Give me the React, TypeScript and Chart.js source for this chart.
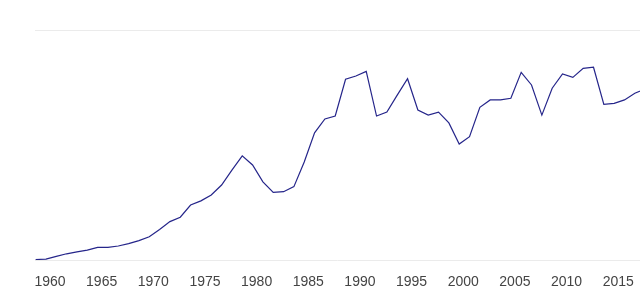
import React, { useEffect, useRef } from "react";
import { Chart, registerables } from "chart.js";

Chart.register(...registerables);

const years: number[] = [
  1959, 1960, 1961, 1962, 1963, 1964, 1965, 1966, 1967, 1968, 1969,
  1970, 1971, 1972, 1973, 1974, 1975, 1976, 1977, 1978, 1979,
  1980, 1981, 1982, 1983, 1984, 1985, 1986, 1987, 1988, 1989,
  1990, 1991, 1992, 1993, 1994, 1995, 1996, 1997, 1998, 1999,
  2000, 2001, 2002, 2003, 2004, 2005, 2006, 2007, 2008, 2009,
  2010, 2011, 2012, 2013, 2014, 2015, 2016, 2017, 2018,
];

const values: number[] = [
  0.2, 0.4, 1.6, 2.7, 3.5, 4.3, 5.5, 5.5, 6.1, 7.1, 8.4,
  10.1, 13.3, 16.7, 18.6, 23.9, 25.7, 28.3, 32.6, 39.1, 45.3,
  41.3, 34.0, 29.4, 29.7, 31.9, 42.6, 55.3, 61.3, 62.6, 78.6,
  80.0, 82.0, 62.6, 64.3, 71.7, 78.8, 65.2, 63.0, 64.3, 59.6,
  50.4, 53.6, 66.4, 69.6, 69.6, 70.3, 81.6, 76.1, 63.0, 74.7,
  80.9, 79.4, 83.3, 83.8, 67.7, 68.1, 69.6, 72.5, 74.3,
];

const yearTicks: number[] = [1960, 1965, 1970, 1975, 1980, 1985, 1990, 1995, 2000, 2005, 2010, 2015];
const yTicks: number[] = [0, 100];

const X_MIN = 1958.94;
const X_MAX = 2017.5;
const LABEL_SHIFT = 0.39;

const yearLabelsPlugin = {
  id: "yearLabels",
  afterDraw(chart: any) {
    const { ctx, scales, chartArea } = chart;
    const xs = scales.x;
    ctx.save();
    ctx.font = "14px 'Liberation Sans', Arial, sans-serif";
    ctx.fillStyle = "#444444";
    ctx.textAlign = "center";
    ctx.textBaseline = "alphabetic";
    for (const y of yearTicks) {
      const px = xs.getPixelForValue(y + LABEL_SHIFT);
      ctx.fillText(String(y), px, chartArea.bottom + 26);
    }
    ctx.restore();
  },
};

export default function App() {
  const ref = useRef<HTMLCanvasElement | null>(null);

  useEffect(() => {
    if (!ref.current) return;
    const chart = new Chart(ref.current, {
      type: "line",
      data: {
        datasets: [
          {
            data: years.map((y, i) => ({ x: y, y: values[i] })),
            borderColor: "#25258a",
            borderWidth: 1.2,
            pointRadius: 0,
            tension: 0,
            fill: false,
          },
        ],
      },
      plugins: [yearLabelsPlugin],
      options: {
        animation: false,
        responsive: false,
        maintainAspectRatio: false,
        layout: { padding: { left: 35, right: 0, top: 30, bottom: 30 } },
        plugins: { legend: { display: false }, tooltip: { enabled: false } },
        scales: {
          x: {
            type: "linear",
            min: X_MIN,
            max: X_MAX,
            display: false,
          },
          y: {
            type: "linear",
            min: 0,
            max: 100,
            display: true,
            afterBuildTicks: (axis: any) => {
              axis.ticks = yTicks.map((v) => ({ value: v }));
            },
            ticks: { display: false },
            grid: { color: "#ebebeb", lineWidth: 1, drawTicks: false },
            border: { display: false },
          },
        },
      },
    });
    return () => chart.destroy();
  }, []);

  return (
    <div style={{ position: "fixed", left: 0, top: 0, width: 640, height: 290, background: "#fff" }}>
      <canvas ref={ref} width={640} height={290} style={{ width: 640, height: 290, display: "block" }} />
    </div>
  );
}
